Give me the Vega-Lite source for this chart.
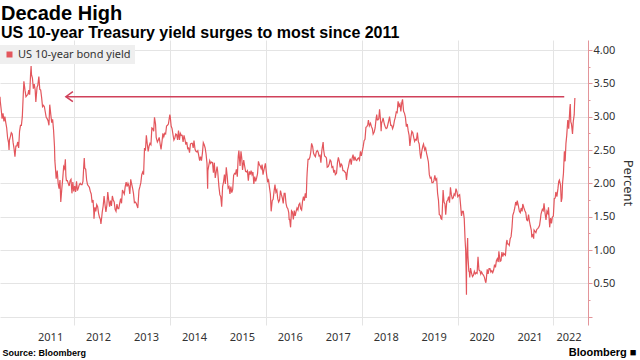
{
  "$schema": "https://vega.github.io/schema/vega-lite/v6.json",
  "autosize": {"type": "none"},
  "width": 588,
  "height": 285,
  "padding": {"left": 0, "top": 40, "right": 52, "bottom": 35},
  "background": "white",
  "config": {"view": {"stroke": null}},
  "title": {
    "text": "Decade High",
    "subtitle": "US 10-year Treasury yield surges to most since 2011",
    "anchor": "start",
    "frame": "group",
    "offset": -1,
    "dx": 1,
    "font": "Liberation Sans",
    "fontSize": 20,
    "fontWeight": "bold",
    "color": "#000",
    "subtitleFont": "Liberation Sans",
    "subtitleFontSize": 16,
    "subtitleFontWeight": "bold",
    "subtitleColor": "#000",
    "subtitlePadding": 1
  },
  "datasets": {
    "yield": [
      {"d":"2010-06-16","v":3.30},{"d":"2010-06-18","v":3.23},{"d":"2010-06-25","v":3.11},{"d":"2010-07-02","v":2.97},{"d":"2010-07-09","v":3.05},{"d":"2010-07-16","v":2.93},{"d":"2010-07-23","v":3.00},{"d":"2010-07-30","v":2.91},{"d":"2010-08-06","v":2.83},{"d":"2010-08-13","v":2.68},{"d":"2010-08-20","v":2.61},{"d":"2010-08-24","v":2.50},{"d":"2010-08-27","v":2.65},{"d":"2010-09-03","v":2.70},{"d":"2010-09-10","v":2.76},{"d":"2010-09-17","v":2.74},{"d":"2010-09-24","v":2.61},{"d":"2010-10-01","v":2.52},{"d":"2010-10-08","v":2.40},{"d":"2010-10-15","v":2.56},{"d":"2010-10-22","v":2.56},{"d":"2010-10-29","v":2.62},{"d":"2010-11-05","v":2.53},{"d":"2010-11-12","v":2.78},{"d":"2010-11-19","v":2.87},{"d":"2010-11-26","v":2.87},{"d":"2010-12-03","v":3.00},{"d":"2010-12-10","v":3.32},{"d":"2010-12-15","v":3.53},{"d":"2010-12-24","v":3.39},{"d":"2010-12-31","v":3.30},
      {"d":"2011-01-07","v":3.32},{"d":"2011-01-14","v":3.33},{"d":"2011-01-21","v":3.40},{"d":"2011-01-28","v":3.33},{"d":"2011-02-04","v":3.64},{"d":"2011-02-08","v":3.76},{"d":"2011-02-11","v":3.63},{"d":"2011-02-18","v":3.58},{"d":"2011-02-25","v":3.42},{"d":"2011-03-04","v":3.49},{"d":"2011-03-11","v":3.40},{"d":"2011-03-16","v":3.22},{"d":"2011-03-25","v":3.44},{"d":"2011-03-31","v":3.47},{"d":"2011-04-08","v":3.60},{"d":"2011-04-15","v":3.41},{"d":"2011-04-22","v":3.40},{"d":"2011-04-29","v":3.29},{"d":"2011-05-06","v":3.15},{"d":"2011-05-13","v":3.17},{"d":"2011-05-20","v":3.15},{"d":"2011-05-27","v":3.07},{"d":"2011-06-03","v":2.99},{"d":"2011-06-10","v":2.97},{"d":"2011-06-17","v":2.94},{"d":"2011-06-24","v":2.87},{"d":"2011-06-30","v":3.18},{"d":"2011-07-08","v":3.03},{"d":"2011-07-15","v":2.91},{"d":"2011-07-22","v":2.96},{"d":"2011-07-29","v":2.80},{"d":"2011-08-05","v":2.56},{"d":"2011-08-08","v":2.34},{"d":"2011-08-12","v":2.24},{"d":"2011-08-18","v":2.07},{"d":"2011-08-26","v":2.19},{"d":"2011-09-02","v":2.00},{"d":"2011-09-09","v":1.92},{"d":"2011-09-16","v":2.05},{"d":"2011-09-22","v":1.72},{"d":"2011-09-30","v":1.92},{"d":"2011-10-07","v":2.07},{"d":"2011-10-14","v":2.25},{"d":"2011-10-21","v":2.22},{"d":"2011-10-27","v":2.36},{"d":"2011-10-31","v":2.11},{"d":"2011-11-04","v":2.04},{"d":"2011-11-11","v":2.04},{"d":"2011-11-18","v":2.00},{"d":"2011-11-25","v":1.96},{"d":"2011-12-02","v":2.04},{"d":"2011-12-09","v":2.06},{"d":"2011-12-16","v":1.85},{"d":"2011-12-23","v":2.02},{"d":"2011-12-30","v":1.88},
      {"d":"2012-01-06","v":1.96},{"d":"2012-01-13","v":1.87},{"d":"2012-01-20","v":2.03},{"d":"2012-01-27","v":1.89},{"d":"2012-02-03","v":1.93},{"d":"2012-02-10","v":1.98},{"d":"2012-02-17","v":2.00},{"d":"2012-02-24","v":1.98},{"d":"2012-03-02","v":1.98},{"d":"2012-03-09","v":2.03},{"d":"2012-03-16","v":2.29},{"d":"2012-03-19","v":2.38},{"d":"2012-03-23","v":2.23},{"d":"2012-03-30","v":2.21},{"d":"2012-04-06","v":2.05},{"d":"2012-04-13","v":1.98},{"d":"2012-04-20","v":1.96},{"d":"2012-04-27","v":1.94},{"d":"2012-05-04","v":1.88},{"d":"2012-05-11","v":1.84},{"d":"2012-05-18","v":1.71},{"d":"2012-05-25","v":1.75},{"d":"2012-05-31","v":1.56},{"d":"2012-06-01","v":1.47},{"d":"2012-06-08","v":1.64},{"d":"2012-06-15","v":1.58},{"d":"2012-06-22","v":1.68},{"d":"2012-06-29","v":1.65},{"d":"2012-07-06","v":1.55},{"d":"2012-07-13","v":1.49},{"d":"2012-07-20","v":1.46},{"d":"2012-07-24","v":1.39},{"d":"2012-07-31","v":1.51},{"d":"2012-08-03","v":1.57},{"d":"2012-08-10","v":1.66},{"d":"2012-08-17","v":1.81},{"d":"2012-08-24","v":1.68},{"d":"2012-08-31","v":1.57},{"d":"2012-09-07","v":1.67},{"d":"2012-09-14","v":1.87},{"d":"2012-09-21","v":1.75},{"d":"2012-09-28","v":1.65},{"d":"2012-10-05","v":1.74},{"d":"2012-10-12","v":1.66},{"d":"2012-10-19","v":1.81},{"d":"2012-10-26","v":1.75},{"d":"2012-11-02","v":1.72},{"d":"2012-11-09","v":1.61},{"d":"2012-11-16","v":1.58},{"d":"2012-11-23","v":1.69},{"d":"2012-11-30","v":1.62},{"d":"2012-12-07","v":1.62},{"d":"2012-12-14","v":1.70},{"d":"2012-12-21","v":1.77},{"d":"2012-12-28","v":1.70},
      {"d":"2013-01-04","v":1.90},{"d":"2013-01-11","v":1.87},{"d":"2013-01-18","v":1.84},{"d":"2013-01-25","v":1.95},{"d":"2013-02-01","v":2.02},{"d":"2013-02-08","v":1.95},{"d":"2013-02-15","v":2.00},{"d":"2013-02-22","v":1.96},{"d":"2013-03-01","v":1.84},{"d":"2013-03-08","v":2.06},{"d":"2013-03-15","v":1.99},{"d":"2013-03-22","v":1.93},{"d":"2013-03-29","v":1.85},{"d":"2013-04-05","v":1.71},{"d":"2013-04-12","v":1.72},{"d":"2013-04-19","v":1.70},{"d":"2013-04-26","v":1.66},{"d":"2013-05-01","v":1.63},{"d":"2013-05-10","v":1.90},{"d":"2013-05-17","v":1.95},{"d":"2013-05-24","v":2.01},{"d":"2013-05-31","v":2.13},{"d":"2013-06-07","v":2.17},{"d":"2013-06-14","v":2.13},{"d":"2013-06-21","v":2.53},{"d":"2013-06-28","v":2.49},{"d":"2013-07-05","v":2.72},{"d":"2013-07-12","v":2.59},{"d":"2013-07-19","v":2.48},{"d":"2013-07-26","v":2.56},{"d":"2013-08-02","v":2.60},{"d":"2013-08-09","v":2.58},{"d":"2013-08-16","v":2.83},{"d":"2013-08-23","v":2.82},{"d":"2013-08-30","v":2.78},{"d":"2013-09-05","v":2.99},{"d":"2013-09-13","v":2.89},{"d":"2013-09-18","v":2.69},{"d":"2013-09-27","v":2.62},{"d":"2013-10-04","v":2.65},{"d":"2013-10-11","v":2.69},{"d":"2013-10-18","v":2.59},{"d":"2013-10-25","v":2.51},{"d":"2013-11-01","v":2.62},{"d":"2013-11-08","v":2.75},{"d":"2013-11-15","v":2.70},{"d":"2013-11-22","v":2.75},{"d":"2013-11-29","v":2.74},{"d":"2013-12-06","v":2.86},{"d":"2013-12-13","v":2.87},{"d":"2013-12-20","v":2.89},{"d":"2013-12-31","v":3.03},
      {"d":"2014-01-03","v":3.00},{"d":"2014-01-10","v":2.86},{"d":"2014-01-17","v":2.82},{"d":"2014-01-24","v":2.73},{"d":"2014-01-31","v":2.65},{"d":"2014-02-07","v":2.68},{"d":"2014-02-14","v":2.74},{"d":"2014-02-21","v":2.73},{"d":"2014-02-28","v":2.65},{"d":"2014-03-07","v":2.79},{"d":"2014-03-14","v":2.65},{"d":"2014-03-21","v":2.75},{"d":"2014-03-28","v":2.72},{"d":"2014-04-04","v":2.72},{"d":"2014-04-11","v":2.62},{"d":"2014-04-18","v":2.72},{"d":"2014-04-25","v":2.66},{"d":"2014-05-02","v":2.58},{"d":"2014-05-09","v":2.62},{"d":"2014-05-16","v":2.52},{"d":"2014-05-23","v":2.53},{"d":"2014-05-30","v":2.46},{"d":"2014-06-06","v":2.59},{"d":"2014-06-13","v":2.60},{"d":"2014-06-20","v":2.60},{"d":"2014-06-27","v":2.53},{"d":"2014-07-03","v":2.64},{"d":"2014-07-11","v":2.51},{"d":"2014-07-18","v":2.48},{"d":"2014-07-25","v":2.47},{"d":"2014-08-01","v":2.49},{"d":"2014-08-08","v":2.42},{"d":"2014-08-15","v":2.34},{"d":"2014-08-22","v":2.40},{"d":"2014-08-29","v":2.34},{"d":"2014-09-05","v":2.45},{"d":"2014-09-12","v":2.61},{"d":"2014-09-19","v":2.58},{"d":"2014-09-26","v":2.53},{"d":"2014-10-03","v":2.44},{"d":"2014-10-10","v":2.30},{"d":"2014-10-15","v":1.92},{"d":"2014-10-17","v":2.19},{"d":"2014-10-24","v":2.27},{"d":"2014-10-31","v":2.34},{"d":"2014-11-07","v":2.30},{"d":"2014-11-14","v":2.32},{"d":"2014-11-21","v":2.31},{"d":"2014-11-28","v":2.16},{"d":"2014-12-05","v":2.31},{"d":"2014-12-12","v":2.08},{"d":"2014-12-19","v":2.17},{"d":"2014-12-26","v":2.25},{"d":"2014-12-31","v":2.17},
      {"d":"2015-01-09","v":1.95},{"d":"2015-01-16","v":1.83},{"d":"2015-01-23","v":1.80},{"d":"2015-01-30","v":1.65},{"d":"2015-02-06","v":1.95},{"d":"2015-02-13","v":2.02},{"d":"2015-02-20","v":2.13},{"d":"2015-02-27","v":1.99},{"d":"2015-03-06","v":2.24},{"d":"2015-03-13","v":2.11},{"d":"2015-03-20","v":1.93},{"d":"2015-03-27","v":1.95},{"d":"2015-04-03","v":1.84},{"d":"2015-04-10","v":1.95},{"d":"2015-04-17","v":1.86},{"d":"2015-04-24","v":1.91},{"d":"2015-05-01","v":2.12},{"d":"2015-05-08","v":2.15},{"d":"2015-05-15","v":2.14},{"d":"2015-05-22","v":2.21},{"d":"2015-05-29","v":2.10},{"d":"2015-06-05","v":2.40},{"d":"2015-06-10","v":2.49},{"d":"2015-06-19","v":2.26},{"d":"2015-06-26","v":2.48},{"d":"2015-07-02","v":2.38},{"d":"2015-07-08","v":2.20},{"d":"2015-07-17","v":2.35},{"d":"2015-07-24","v":2.26},{"d":"2015-07-31","v":2.18},{"d":"2015-08-07","v":2.17},{"d":"2015-08-14","v":2.19},{"d":"2015-08-21","v":2.04},{"d":"2015-08-28","v":2.18},{"d":"2015-09-04","v":2.13},{"d":"2015-09-11","v":2.19},{"d":"2015-09-18","v":2.13},{"d":"2015-09-25","v":2.17},{"d":"2015-10-02","v":1.99},{"d":"2015-10-09","v":2.10},{"d":"2015-10-16","v":2.03},{"d":"2015-10-23","v":2.08},{"d":"2015-10-30","v":2.14},{"d":"2015-11-06","v":2.33},{"d":"2015-11-13","v":2.28},{"d":"2015-11-20","v":2.26},{"d":"2015-11-27","v":2.22},{"d":"2015-12-04","v":2.28},{"d":"2015-12-11","v":2.13},{"d":"2015-12-18","v":2.20},{"d":"2015-12-29","v":2.30},
      {"d":"2016-01-08","v":2.12},{"d":"2016-01-15","v":2.03},{"d":"2016-01-22","v":2.05},{"d":"2016-01-29","v":1.94},{"d":"2016-02-05","v":1.84},{"d":"2016-02-11","v":1.58},{"d":"2016-02-19","v":1.74},{"d":"2016-02-26","v":1.76},{"d":"2016-03-04","v":1.88},{"d":"2016-03-11","v":1.98},{"d":"2016-03-18","v":1.87},{"d":"2016-03-25","v":1.90},{"d":"2016-04-01","v":1.77},{"d":"2016-04-08","v":1.72},{"d":"2016-04-15","v":1.75},{"d":"2016-04-22","v":1.89},{"d":"2016-04-29","v":1.83},{"d":"2016-05-06","v":1.78},{"d":"2016-05-13","v":1.70},{"d":"2016-05-20","v":1.85},{"d":"2016-05-27","v":1.85},{"d":"2016-06-03","v":1.70},{"d":"2016-06-10","v":1.64},{"d":"2016-06-17","v":1.62},{"d":"2016-06-24","v":1.56},{"d":"2016-06-27","v":1.46},{"d":"2016-07-01","v":1.46},{"d":"2016-07-08","v":1.34},{"d":"2016-07-15","v":1.59},{"d":"2016-07-22","v":1.57},{"d":"2016-07-29","v":1.46},{"d":"2016-08-05","v":1.59},{"d":"2016-08-12","v":1.51},{"d":"2016-08-19","v":1.58},{"d":"2016-08-26","v":1.63},{"d":"2016-09-02","v":1.60},{"d":"2016-09-09","v":1.68},{"d":"2016-09-16","v":1.70},{"d":"2016-09-23","v":1.62},{"d":"2016-09-30","v":1.60},{"d":"2016-10-07","v":1.73},{"d":"2016-10-14","v":1.80},{"d":"2016-10-21","v":1.74},{"d":"2016-10-28","v":1.85},{"d":"2016-11-04","v":1.78},{"d":"2016-11-09","v":2.07},{"d":"2016-11-11","v":2.15},{"d":"2016-11-18","v":2.36},{"d":"2016-11-25","v":2.36},{"d":"2016-12-02","v":2.39},{"d":"2016-12-09","v":2.47},{"d":"2016-12-15","v":2.60},{"d":"2016-12-23","v":2.55},{"d":"2016-12-30","v":2.45},
      {"d":"2017-01-06","v":2.42},{"d":"2017-01-13","v":2.40},{"d":"2017-01-20","v":2.47},{"d":"2017-01-27","v":2.49},{"d":"2017-02-03","v":2.47},{"d":"2017-02-10","v":2.41},{"d":"2017-02-17","v":2.42},{"d":"2017-02-24","v":2.31},{"d":"2017-03-03","v":2.49},{"d":"2017-03-13","v":2.62},{"d":"2017-03-17","v":2.50},{"d":"2017-03-24","v":2.41},{"d":"2017-03-31","v":2.40},{"d":"2017-04-07","v":2.38},{"d":"2017-04-13","v":2.24},{"d":"2017-04-21","v":2.25},{"d":"2017-04-28","v":2.29},{"d":"2017-05-05","v":2.35},{"d":"2017-05-12","v":2.33},{"d":"2017-05-19","v":2.24},{"d":"2017-05-26","v":2.25},{"d":"2017-06-02","v":2.16},{"d":"2017-06-09","v":2.20},{"d":"2017-06-14","v":2.13},{"d":"2017-06-23","v":2.15},{"d":"2017-06-30","v":2.31},{"d":"2017-07-07","v":2.39},{"d":"2017-07-14","v":2.33},{"d":"2017-07-21","v":2.24},{"d":"2017-07-28","v":2.29},{"d":"2017-08-04","v":2.27},{"d":"2017-08-11","v":2.19},{"d":"2017-08-18","v":2.19},{"d":"2017-08-25","v":2.17},{"d":"2017-09-01","v":2.16},{"d":"2017-09-07","v":2.05},{"d":"2017-09-15","v":2.20},{"d":"2017-09-22","v":2.25},{"d":"2017-09-29","v":2.33},{"d":"2017-10-06","v":2.37},{"d":"2017-10-13","v":2.28},{"d":"2017-10-20","v":2.38},{"d":"2017-10-27","v":2.43},{"d":"2017-11-03","v":2.34},{"d":"2017-11-10","v":2.40},{"d":"2017-11-17","v":2.35},{"d":"2017-11-24","v":2.34},{"d":"2017-12-01","v":2.37},{"d":"2017-12-08","v":2.38},{"d":"2017-12-15","v":2.35},{"d":"2017-12-22","v":2.48},{"d":"2017-12-29","v":2.41},
      {"d":"2018-01-05","v":2.48},{"d":"2018-01-12","v":2.55},{"d":"2018-01-19","v":2.64},{"d":"2018-01-26","v":2.66},{"d":"2018-02-02","v":2.84},{"d":"2018-02-09","v":2.85},{"d":"2018-02-16","v":2.88},{"d":"2018-02-21","v":2.95},{"d":"2018-02-28","v":2.86},{"d":"2018-03-09","v":2.90},{"d":"2018-03-16","v":2.85},{"d":"2018-03-23","v":2.82},{"d":"2018-03-29","v":2.74},{"d":"2018-04-06","v":2.77},{"d":"2018-04-13","v":2.83},{"d":"2018-04-20","v":2.96},{"d":"2018-04-25","v":3.03},{"d":"2018-04-30","v":2.95},{"d":"2018-05-04","v":2.95},{"d":"2018-05-11","v":2.97},{"d":"2018-05-17","v":3.11},{"d":"2018-05-25","v":2.93},{"d":"2018-05-29","v":2.78},{"d":"2018-06-01","v":2.90},{"d":"2018-06-08","v":2.94},{"d":"2018-06-13","v":2.98},{"d":"2018-06-22","v":2.89},{"d":"2018-06-29","v":2.85},{"d":"2018-07-06","v":2.82},{"d":"2018-07-13","v":2.83},{"d":"2018-07-20","v":2.89},{"d":"2018-07-27","v":2.95},{"d":"2018-08-01","v":3.00},{"d":"2018-08-10","v":2.87},{"d":"2018-08-17","v":2.87},{"d":"2018-08-24","v":2.82},{"d":"2018-08-31","v":2.86},{"d":"2018-09-07","v":2.94},{"d":"2018-09-14","v":2.99},{"d":"2018-09-21","v":3.07},{"d":"2018-09-28","v":3.06},{"d":"2018-10-05","v":3.23},{"d":"2018-10-12","v":3.16},{"d":"2018-10-19","v":3.19},{"d":"2018-10-26","v":3.08},{"d":"2018-11-02","v":3.21},{"d":"2018-11-08","v":3.26},{"d":"2018-11-16","v":3.08},{"d":"2018-11-23","v":3.05},{"d":"2018-11-30","v":2.99},{"d":"2018-12-07","v":2.85},{"d":"2018-12-14","v":2.89},{"d":"2018-12-21","v":2.79},{"d":"2018-12-28","v":2.72},
      {"d":"2019-01-03","v":2.56},{"d":"2019-01-11","v":2.70},{"d":"2019-01-18","v":2.78},{"d":"2019-01-25","v":2.76},{"d":"2019-02-01","v":2.69},{"d":"2019-02-08","v":2.63},{"d":"2019-02-15","v":2.66},{"d":"2019-02-22","v":2.65},{"d":"2019-03-01","v":2.76},{"d":"2019-03-08","v":2.63},{"d":"2019-03-15","v":2.59},{"d":"2019-03-22","v":2.44},{"d":"2019-03-27","v":2.37},{"d":"2019-04-05","v":2.50},{"d":"2019-04-12","v":2.56},{"d":"2019-04-17","v":2.59},{"d":"2019-04-26","v":2.50},{"d":"2019-05-03","v":2.53},{"d":"2019-05-10","v":2.45},{"d":"2019-05-17","v":2.39},{"d":"2019-05-24","v":2.32},{"d":"2019-05-31","v":2.13},{"d":"2019-06-07","v":2.08},{"d":"2019-06-14","v":2.09},{"d":"2019-06-20","v":2.01},{"d":"2019-06-28","v":2.01},{"d":"2019-07-05","v":2.04},{"d":"2019-07-12","v":2.12},{"d":"2019-07-19","v":2.05},{"d":"2019-07-26","v":2.07},{"d":"2019-08-02","v":1.85},{"d":"2019-08-09","v":1.74},{"d":"2019-08-15","v":1.53},{"d":"2019-08-23","v":1.52},{"d":"2019-08-28","v":1.47},{"d":"2019-09-03","v":1.46},{"d":"2019-09-06","v":1.55},{"d":"2019-09-13","v":1.90},{"d":"2019-09-20","v":1.72},{"d":"2019-09-27","v":1.69},{"d":"2019-10-03","v":1.53},{"d":"2019-10-11","v":1.73},{"d":"2019-10-18","v":1.75},{"d":"2019-10-25","v":1.80},{"d":"2019-11-01","v":1.71},{"d":"2019-11-08","v":1.94},{"d":"2019-11-15","v":1.83},{"d":"2019-11-22","v":1.77},{"d":"2019-11-29","v":1.78},{"d":"2019-12-06","v":1.84},{"d":"2019-12-13","v":1.82},{"d":"2019-12-20","v":1.92},{"d":"2019-12-27","v":1.88},
      {"d":"2020-01-03","v":1.80},{"d":"2020-01-10","v":1.82},{"d":"2020-01-17","v":1.83},{"d":"2020-01-24","v":1.68},{"d":"2020-01-31","v":1.51},{"d":"2020-02-07","v":1.58},{"d":"2020-02-14","v":1.58},{"d":"2020-02-21","v":1.47},{"d":"2020-02-28","v":1.13},{"d":"2020-03-03","v":1.00},{"d":"2020-03-06","v":0.71},{"d":"2020-03-09","v":0.33},{"d":"2020-03-10","v":0.76},{"d":"2020-03-13","v":0.96},{"d":"2020-03-18","v":1.18},{"d":"2020-03-20","v":0.92},{"d":"2020-03-27","v":0.68},{"d":"2020-03-31","v":0.67},{"d":"2020-04-03","v":0.59},{"d":"2020-04-09","v":0.73},{"d":"2020-04-17","v":0.65},{"d":"2020-04-24","v":0.60},{"d":"2020-05-01","v":0.62},{"d":"2020-05-08","v":0.68},{"d":"2020-05-15","v":0.64},{"d":"2020-05-22","v":0.66},{"d":"2020-05-29","v":0.65},{"d":"2020-06-05","v":0.90},{"d":"2020-06-12","v":0.70},{"d":"2020-06-19","v":0.69},{"d":"2020-06-26","v":0.64},{"d":"2020-07-02","v":0.67},{"d":"2020-07-10","v":0.64},{"d":"2020-07-17","v":0.62},{"d":"2020-07-24","v":0.59},{"d":"2020-07-31","v":0.53},{"d":"2020-08-04","v":0.51},{"d":"2020-08-07","v":0.56},{"d":"2020-08-14","v":0.71},{"d":"2020-08-21","v":0.64},{"d":"2020-08-28","v":0.72},{"d":"2020-09-04","v":0.72},{"d":"2020-09-11","v":0.67},{"d":"2020-09-18","v":0.69},{"d":"2020-09-25","v":0.66},{"d":"2020-10-02","v":0.70},{"d":"2020-10-09","v":0.78},{"d":"2020-10-16","v":0.74},{"d":"2020-10-23","v":0.84},{"d":"2020-10-30","v":0.87},{"d":"2020-11-06","v":0.82},{"d":"2020-11-11","v":0.98},{"d":"2020-11-20","v":0.83},{"d":"2020-11-27","v":0.84},{"d":"2020-12-04","v":0.97},{"d":"2020-12-11","v":0.90},{"d":"2020-12-18","v":0.95},{"d":"2020-12-31","v":0.92},
      {"d":"2021-01-08","v":1.12},{"d":"2021-01-12","v":1.15},{"d":"2021-01-15","v":1.09},{"d":"2021-01-22","v":1.09},{"d":"2021-01-29","v":1.07},{"d":"2021-02-05","v":1.17},{"d":"2021-02-12","v":1.20},{"d":"2021-02-19","v":1.34},{"d":"2021-02-25","v":1.52},{"d":"2021-03-05","v":1.57},{"d":"2021-03-12","v":1.63},{"d":"2021-03-19","v":1.72},{"d":"2021-03-26","v":1.67},{"d":"2021-03-31","v":1.74},{"d":"2021-04-09","v":1.66},{"d":"2021-04-16","v":1.58},{"d":"2021-04-23","v":1.56},{"d":"2021-04-30","v":1.63},{"d":"2021-05-07","v":1.58},{"d":"2021-05-12","v":1.69},{"d":"2021-05-21","v":1.63},{"d":"2021-05-28","v":1.59},{"d":"2021-06-04","v":1.56},{"d":"2021-06-11","v":1.45},{"d":"2021-06-18","v":1.44},{"d":"2021-06-25","v":1.53},{"d":"2021-07-02","v":1.43},{"d":"2021-07-09","v":1.36},{"d":"2021-07-16","v":1.30},{"d":"2021-07-20","v":1.19},{"d":"2021-07-30","v":1.24},{"d":"2021-08-03","v":1.17},{"d":"2021-08-06","v":1.30},{"d":"2021-08-13","v":1.28},{"d":"2021-08-20","v":1.26},{"d":"2021-08-27","v":1.31},{"d":"2021-09-03","v":1.32},{"d":"2021-09-10","v":1.34},{"d":"2021-09-17","v":1.37},{"d":"2021-09-24","v":1.47},{"d":"2021-09-28","v":1.54},{"d":"2021-10-08","v":1.61},{"d":"2021-10-15","v":1.59},{"d":"2021-10-21","v":1.70},{"d":"2021-10-29","v":1.55},{"d":"2021-11-05","v":1.45},{"d":"2021-11-12","v":1.58},{"d":"2021-11-19","v":1.55},{"d":"2021-11-24","v":1.64},{"d":"2021-11-30","v":1.44},{"d":"2021-12-03","v":1.34},{"d":"2021-12-10","v":1.48},{"d":"2021-12-17","v":1.40},{"d":"2021-12-23","v":1.49},{"d":"2021-12-31","v":1.51},
      {"d":"2022-01-07","v":1.77},{"d":"2022-01-14","v":1.78},{"d":"2022-01-19","v":1.87},{"d":"2022-01-27","v":1.80},{"d":"2022-02-04","v":1.92},{"d":"2022-02-10","v":2.03},{"d":"2022-02-15","v":2.05},{"d":"2022-02-24","v":1.97},{"d":"2022-03-01","v":1.72},{"d":"2022-03-07","v":1.78},{"d":"2022-03-11","v":2.00},{"d":"2022-03-18","v":2.15},{"d":"2022-03-25","v":2.48},{"d":"2022-03-31","v":2.33},{"d":"2022-04-06","v":2.60},{"d":"2022-04-12","v":2.72},{"d":"2022-04-20","v":2.95},{"d":"2022-04-27","v":2.82},{"d":"2022-05-02","v":2.99},{"d":"2022-05-06","v":3.13},{"d":"2022-05-09","v":3.19},{"d":"2022-05-13","v":2.92},{"d":"2022-05-18","v":2.89},{"d":"2022-05-26","v":2.74},{"d":"2022-06-01","v":2.93},{"d":"2022-06-08","v":3.03},{"d":"2022-06-10","v":3.15},{"d":"2022-06-13","v":3.28}
    ],
    "arrow": [{"start": "2011-10-31", "end": "2022-03-24", "v": 3.30}]
  },
  "encoding": {
    "y": {
      "field": "v", "type": "quantitative",
      "scale": {"domain": [-0.125, 4.15], "nice": false, "zero": false},
      "axis": {
        "orient": "right",
        "values": [0, 0.25, 0.5, 0.75, 1, 1.25, 1.5, 1.75, 2, 2.25, 2.5, 2.75, 3, 3.25, 3.5, 3.75, 4],
        "labelExpr": "datum.value > 0 && datum.value % 0.5 == 0 ? format(datum.value, '.2f') : ''",
        "domain": true,
        "domainColor": "#e3959a",
        "domainWidth": 1,
        "ticks": true,
        "tickColor": "#e3959a",
        "tickSize": 4,
        "tickDash": {"condition": {"test": "datum.value % 0.5 != 0", "value": [2, 10]}, "value": [4, 0]},
        "grid": true,
        "gridColor": "#e4e4e4",
        "gridOpacity": {"condition": {"test": "datum.value % 0.5 != 0", "value": 0}, "value": 1},
        "labelPadding": 1,
        "labelFont": "Noto Sans",
        "labelFontSize": 11,
        "labelColor": "#333",
        "labelFlush": false,
        "labelOverlap": false,
        "title": "Percent",
        "titleFont": "Noto Sans",
        "titleFontSize": 13,
        "titleFontWeight": "normal",
        "titleColor": "#333",
        "titlePadding": 6
      }
    }
  },
  "layer": [
    {
      "data": {"name": "yield"},
      "mark": {"type": "line", "strokeWidth": 1.2, "interpolate": "linear"},
      "encoding": {
        "x": {
          "field": "d", "type": "temporal",
          "scale": {"domain": [{"year": 2010, "month": 6, "date": 16}, {"year": 2022, "month": 9, "date": 21}]},
          "axis": {
            "values": [{"year": 2011, "month": 1, "date": 1}, {"year": 2012, "month": 1, "date": 1}, {"year": 2013, "month": 1, "date": 1}, {"year": 2014, "month": 1, "date": 1}, {"year": 2015, "month": 1, "date": 1}, {"year": 2016, "month": 1, "date": 1}, {"year": 2017, "month": 1, "date": 1}, {"year": 2018, "month": 1, "date": 1}, {"year": 2019, "month": 1, "date": 1}, {"year": 2020, "month": 1, "date": 1}, {"year": 2021, "month": 1, "date": 1}, {"year": 2022, "month": 1, "date": 1}],
            "format": "%Y",
            "orient": "bottom",
            "domain": false,
            "ticks": false,
            "tickSize": 0,
            "grid": true,
            "gridColor": "#e4e4e4",
            "gridWidth": 1,
            "gridOpacity": {"condition": {"test": "year(datum.value) % 2 == 1", "value": 0}, "value": 1},
            "labelOffset": {"condition": {"test": "year(datum.value) == 2022", "value": 15}, "value": 24},
            "labelPadding": 6,
            "labelFont": "Noto Sans",
            "labelFontSize": 11,
            "labelColor": "#333",
            "labelFlush": false,
            "labelOverlap": false,
            "labelBound": false,
            "title": "Source: Bloomberg",
            "titleX": 2,
            "titleY": 27,
            "titleAlign": "left",
            "titleBaseline": "middle",
            "titleFont": "Liberation Sans",
            "titleFontSize": 9,
            "titleFontWeight": "bold",
            "titleColor": "#000"
          }
        },
        "color": {
          "datum": "US 10-year bond yield",
          "scale": {"range": ["#e3565c"]},
          "legend": {
            "orient": "none",
            "legendX": 0,
            "legendY": 5,
            "title": null,
            "fillColor": "#efefef",
            "padding": 4,
            "symbolType": "square",
            "symbolSize": 36,
            "symbolStrokeWidth": 0,
            "symbolFillColor": "#e3565c",
            "labelFont": "Noto Sans",
            "labelFontSize": 11,
            "labelColor": "#333",
            "labelOffset": 3,
            "encode": {"symbols": {"update": {"fill": {"value": "#e3565c"}, "stroke": {"value": "transparent"}, "shape": {"value": "square"}}}}
          }
        }
      }
    },
    {
      "data": {"name": "arrow"},
      "mark": {"type": "rule", "color": "#d0415a", "strokeWidth": 1.5},
      "encoding": {
        "x": {
          "field": "start", "type": "temporal",
          "scale": {"domain": [{"year": 2010, "month": 6, "date": 16}, {"year": 2022, "month": 9, "date": 21}]},
          "axis": {
            "orient": "bottom",
            "labels": false,
            "ticks": false,
            "domain": false,
            "grid": false,
            "title": "Bloomberg \u25a0",
            "titleX": 636,
            "titleY": 27,
            "titleAlign": "right",
            "titleBaseline": "middle",
            "titleFont": "Liberation Sans",
            "titleFontSize": 11,
            "titleFontWeight": "bold",
            "titleColor": "#000"
          }
        },
        "x2": {"field": "end"}
      }
    },
    {
      "data": {"name": "arrow"},
      "mark": {"type": "point", "shape": "M1.4,-1L0,0L1.4,1", "filled": false, "color": "#d0415a", "strokeWidth": 1.5, "size": 100, "opacity": 1},
      "encoding": {
        "x": {"field": "start", "type": "temporal", "scale": {"domain": [{"year": 2010, "month": 6, "date": 16}, {"year": 2022, "month": 9, "date": 21}]}, "axis": null}
      }
    }
  ],
  "resolve": {"axis": {"x": "independent"}}
}
